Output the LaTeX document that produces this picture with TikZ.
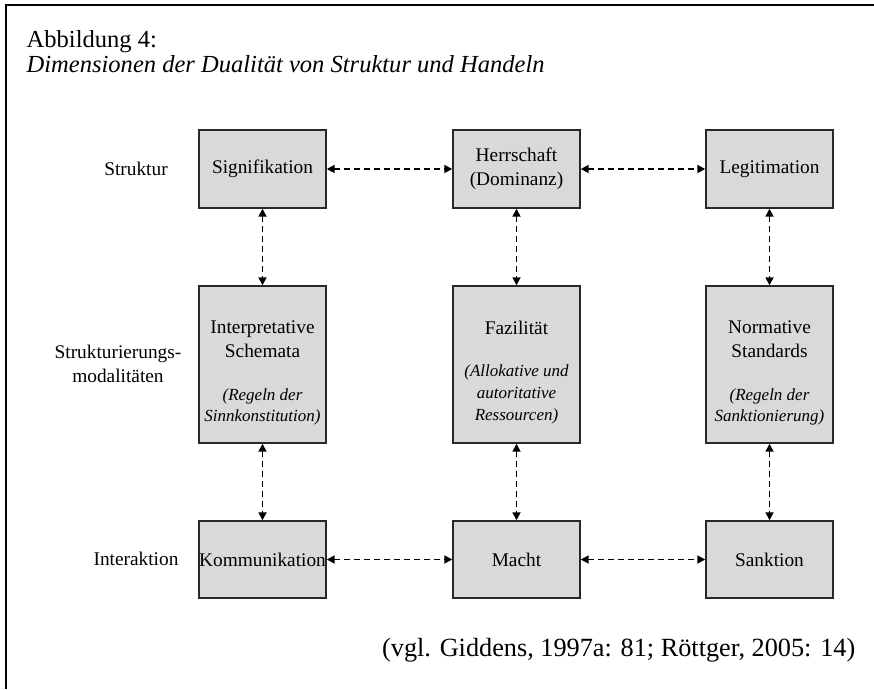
\documentclass[tikz,border=0pt]{standalone}
\usepackage{fontspec}
\setmainfont{Liberation Serif}
\usetikzlibrary{arrows.meta, positioning}
\definecolor{boxgray}{RGB}{217,217,217}
\definecolor{boxline}{RGB}{40,40,40}
\newcommand\anm[1]{{\fontsize{12.75}{15}\selectfont\itshape #1}}
\newcommand\topgap{\rule{0pt}{22pt}}

\begin{document}
\begin{tikzpicture}[x=0.75pt, y=-0.75pt, every node/.style={font=\fontsize{14.5}{18}\selectfont}]
    \tikzset{
        dimbox/.style={draw=boxline, fill=boxgray, line width=1.1pt, inner sep=0pt, minimum width=95.25pt, align=center},
        dual/.style={{Triangle[length=6pt,width=6pt]}-{Triangle[length=6pt,width=6pt]}, dash pattern=on 4.5pt off 3pt, line width=1.3pt},
        rowlabel/.style={align=center}
    }
    \useasboundingbox (0,0) rectangle (874,689);
    % frame, only top and left edge visible
    \draw[line width=1.5pt] (874,5) -- (6,5) -- (6,689);

    \node[anchor=base west, font=\fontsize{18.4}{22}\selectfont] (fig) at (22,47) {Abbildung 4:};
    \node[anchor=base west, font=\fontsize{18.4}{22}\selectfont\itshape] (title) at (22,72) {Dimensionen der Dualität von Struktur und Handeln};

    % row labels
    \node[rowlabel] (lstruk) at (136,169) {Struktur};
    \node[rowlabel] (lmod) at (118,364) {Strukturierungs-\\modalitäten};
    \node[rowlabel] (linter) at (136,559) {Interaktion};

    % structure
    \node[dimbox, minimum height=58.5pt] (sig) at (262.5,169) {Signifikation};
    \node[dimbox, minimum height=58.5pt] (herr) at (516.5,169) {Herrschaft\\(Dominanz)};
    \node[dimbox, minimum height=58.5pt] (leg) at (769.5,169) {Legitimation};

    % modalities
    \node[dimbox, minimum height=117.75pt] (interp) at (262.5,364.5)
        {\topgap Interpretative\\Schemata\\[14pt]\anm{(Regeln der}\\[-2pt]\anm{Sinnkonstitution)}};
    \node[dimbox, minimum height=117.75pt] (faz) at (516.5,364.5)
        {\topgap Fazilität\\[13pt]\anm{(Allokative und}\\[-1.5pt]\anm{autoritative}\\[-1.5pt]\anm{Ressourcen)}};
    \node[dimbox, minimum height=117.75pt] (norm) at (769.5,364.5)
        {\topgap Normative\\Standards\\[14pt]\anm{(Regeln der}\\[-2pt]\anm{Sanktionierung)}};

    % interaction
    \node[dimbox, minimum height=57.75pt] (komm) at (262.5,559.5) {Kommunikation};
    \node[dimbox, minimum height=57.75pt] (macht) at (516.5,559.5) {Macht};
    \node[dimbox, minimum height=57.75pt] (sankt) at (769.5,559.5) {Sanktion};

    \foreach \a/\b in {sig/herr, herr/leg, komm/macht, macht/sankt,
                       sig/interp, interp/komm, herr/faz, faz/macht, leg/norm, norm/sankt}
        \draw[dual] (\a) -- (\b);

    \node[anchor=base east, font=\fontsize{19.7}{23}\selectfont] (quelle) at (860,656)
        {(vgl. Giddens, 1997a: 81; Röttger, 2005: 14)};
\end{tikzpicture}
\end{document}
